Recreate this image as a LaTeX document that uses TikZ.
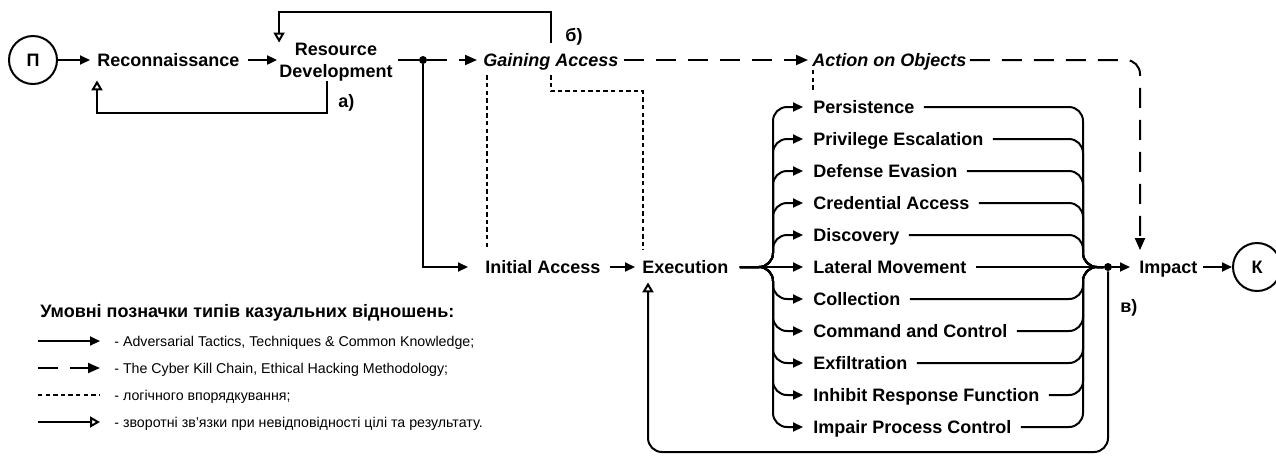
\documentclass[tikz,border=0pt]{standalone}
\usepackage{fontspec}
\setmainfont{Liberation Sans}
\usetikzlibrary{arrows.meta,calc}
\begin{document}
\begin{tikzpicture}[x=0.5pt,y=-0.5pt,
  lbl/.style={font=\bfseries\fontsize{9}{11}\selectfont, inner sep=0pt, text height=8pt, text depth=1.5pt},
  ital/.style={lbl, font=\bfseries\itshape\fontsize{9}{11}\selectfont},
  leg/.style={font=\fontsize{7.1}{9}\selectfont, inner sep=0pt, text height=6.5pt, text depth=1.2pt, anchor=west},
  ln/.style={line width=1pt},
  arr/.style={ln, -{Triangle[length=5pt,width=4.5pt]}},
  darr/.style={ln, dash pattern=on 10pt off 6pt, -{Triangle[length=6pt,width=5pt]}},
  dotl/.style={ln, dash pattern=on 2.2pt off 1.6pt},
  fb/.style={ln, -{Triangle[open,length=5pt,width=5.5pt]}},
  junc/.style={circle, fill, inner sep=0pt, minimum size=4pt},
  term/.style={circle, draw, line width=1pt, minimum size=24pt, inner sep=0pt, font=\bfseries\fontsize{9}{11}\selectfont}
]
\useasboundingbox (0,0) rectangle (1276,457);

% main nodes
\node[term] (P) at (33,60) {П};
\node[lbl, anchor=west] (Recon) at (97,60) {Reconnaissance};
\node[font=\bfseries\fontsize{9}{11}\selectfont, align=center, inner sep=0pt] (RD) at (336,62) {Resource\\Development};
\node[junc] (J1) at (423,60) {};
\node[ital, anchor=west] (GA) at (483,60) {Gaining Access};
\node[ital, anchor=west] (AO) at (812,60) {Action on Objects};
\node[lbl, anchor=west] (IA) at (485,267) {Initial Access};
\node[lbl, anchor=west] (EX) at (642,267) {Execution};
\foreach \t [count=\i] in {Persistence, Privilege Escalation, Defense Evasion, Credential Access, Discovery, Lateral Movement, Collection, Command and Control, Exfiltration, Inhibit Response Function, Impair Process Control}
  \node[lbl, anchor=west] (R\i) at (813,{75+32*\i}) {\t};
\node[junc] (J2) at (1108,267) {};
\node[lbl, anchor=west] (IM) at (1139,267) {Impact};
\node[term] (K) at (1257,267) {К};
\coordinate (FL) at (773,267);
\coordinate (FR) at (1083,267);

% labels
\node[lbl, anchor=west] (La) at (338,101) {а)};
\node[lbl, anchor=west] (Lb) at (565,35) {б)};
\node[lbl, anchor=west] (Lv) at (1120,306) {в)};

% main chain
\draw[arr, shorten >=3.5pt] (P.east) -- (Recon.west);
\draw[arr, shorten <=4pt, shorten >=1pt] (Recon.east) -- (Recon.east -| RD.west);
\draw[ln, shorten <=2.5pt] (RD.east |- J1) -- (J1);
\draw[darr, shorten >=3pt] (J1) -- (GA.west);
\draw[arr, shorten >=8.5pt] (J1) |- (IA.west);
\draw[arr, shorten <=4.5pt, shorten >=3.5pt] (IA.east) -- (EX.west);
\draw[darr, shorten <=2.5pt, shorten >=2pt] (GA.east) -- (AO.west);
\draw[darr, rounded corners=7pt, shorten <=1.5pt, shorten >=3.5pt] (AO.east) -| ($(IM.north west)+(1,0)$);

% fan out
\foreach \i in {1,2,3,4,5,7,8,9,10,11}
  \draw[arr, rounded corners=7pt, shorten <=5.5pt, shorten >=5pt] (EX.east) -| (FL |- R\i.west) -- (R\i.west);
\draw[arr, shorten <=5.5pt, shorten >=5pt] (EX.east) -- (R6.west);

% fan in
\foreach \i in {1,2,3,4,5,7,8,9,10,11}
  \draw[ln, rounded corners=7pt, shorten <=4.5pt] (R\i.east) -| (FR) -- (J2);
\draw[ln, shorten <=4.5pt] (R6.east) -- (J2);
\draw[arr, shorten >=4.5pt] (J2) -- (IM.west);
\draw[arr, shorten <=2.5pt] (IM.east) -- (K.west);

% feedbacks
\coordinate (A1) at ($(RD.south)+(-9,0)$);
\draw[fb, shorten >=5.25pt] (A1) -- ++(0,32) -| (Recon.south west);
\draw[fb, shorten <=3.75pt] (GA.north) -- ++(0,-38.5) -| (RD.north west);
\draw[fb, rounded corners=7pt, shorten >=2.75pt] (J2) -- ++(0,185) -| ($(EX.south west)+(6,0)$);

% dotted logical ordering
\coordinate (D1) at ($(GA.south west)+(4,0)$);
\draw[dotl, shorten <=2.75pt, shorten >=3.75pt] (D1) -- (D1 |- IA.north);
\draw[dotl, shorten <=2.75pt, shorten >=3.75pt] (GA.south) -- ++(0,21.5) -| ($(EX.north west)+(1,0)$);
\coordinate (D3) at ($(AO.south west)+(1,0)$);
\draw[dotl, shorten >=3.75pt] (D3) -- (D3 |- R1.north);

% legend
\node[font=\bfseries\fontsize{9}{10}\selectfont, anchor=west, inner sep=0pt] (LT) at (40,313) {Умовні позначки типів казуальних відношень:};
\node[leg] (L1) at (114,341) {- Adversarial Tactics, Techniques \& Common Knowledge;};
\node[leg] (L2) at (114,368) {- The Cyber Kill Chain, Ethical Hacking Methodology;};
\node[leg] (L3) at (114,395) {- логічного впорядкування;};
\node[leg] (L4) at (114,422) {- зворотні зв'язки при невідповідності цілі та результату.};
\coordinate (S1) at (38,341);
\coordinate (S2) at (38,368);
\coordinate (S3) at (38,395);
\coordinate (S4) at (38,422);
\draw[arr, shorten >=7pt] (S1) -- (L1.west);
\draw[darr, shorten >=7pt] (S2) -- (L2.west);
\draw[dotl, shorten >=7pt] (S3) -- (L3.west);
\draw[fb, shorten >=7pt] (S4) -- (L4.west);
\end{tikzpicture}
\end{document}
